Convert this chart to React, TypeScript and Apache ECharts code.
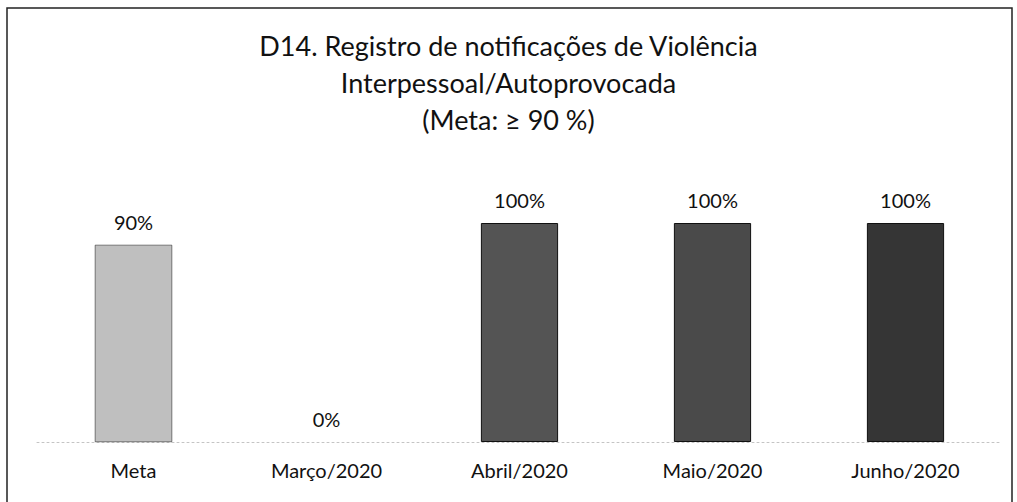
import React, { useEffect, useRef } from "react";
import * as echarts from "echarts";

const titleLines = [
  "D14. Registro de notificações de Violência",
  "Interpessoal/Autoprovocada",
  "(Meta: ≥ 90 %)",
];
const categories = ["Meta", "Março/2020", "Abril/2020", "Maio/2020", "Junho/2020"];
const values = [90, 0, 100, 100, 100];
const barColors = ["#bfbfbf", "#8a8a8a", "#545454", "#4a4a4a", "#353535"];

export default function App() {
  const ref = useRef<HTMLDivElement>(null);
  useEffect(() => {
    if (!ref.current) return;
    const chart = echarts.init(ref.current, undefined, { renderer: "svg" });
    const font = "Lato, 'Noto Sans', sans-serif";
    chart.setOption({
      animation: false,
      backgroundColor: "#ffffff",
      title: {
        text: titleLines.join("\n"),
        left: "center",
        top: 22,
        textStyle: {
          fontFamily: font,
          fontSize: 27,
          fontWeight: "normal",
          color: "#111",
          lineHeight: 37,
        },
      },
      graphic: [
        {
          type: "rect",
          shape: { x: 7, y: 8, width: 1005, height: 510 },
          style: { fill: "none", stroke: "#222", lineWidth: 1.5 },
          silent: true,
        },
      ],
      grid: { left: 37, right: 15, top: 223, bottom: 60, containLabel: false },
      xAxis: {
        type: "category",
        data: categories,
        axisLine: { lineStyle: { color: "#c4c4c4", type: [2, 3], width: 1 } },
        axisTick: { show: false },
        axisLabel: {
          fontFamily: font,
          fontSize: 20,
          color: "#111",
          margin: 18,
        },
      },
      yAxis: {
        type: "value",
        min: 0,
        max: 100,
        show: false,
        splitLine: { show: false },
      },
      series: [
        {
          type: "bar",
          barWidth: "40%",
          data: values.map((v, i) => ({
            value: v,
            itemStyle: {
              color: barColors[i],
              borderColor: "#111",
              borderWidth: v === 0 ? 0 : i === 0 ? 0.5 : 1,
            },
          })),
          label: {
            show: true,
            position: "top",
            distance: 13,
            formatter: (p: any) => `${p.value}%`,
            fontFamily: font,
            fontSize: 20,
            color: "#111",
          },
        },
      ],
    });
    return () => chart.dispose();
  }, []);
  return (
    <div
      ref={ref}
      style={{ position: "fixed", left: 0, top: 0, width: 1017, height: 502 }}
    />
  );
}
